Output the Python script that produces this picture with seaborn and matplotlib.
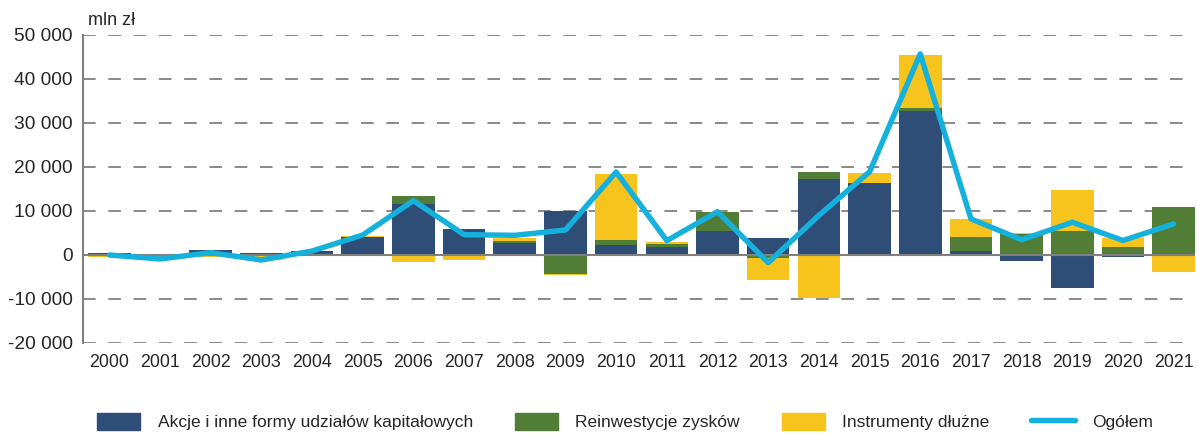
import numpy as np
import pandas as pd
import matplotlib
matplotlib.use('Agg')
import matplotlib.pyplot as plt
import seaborn as sns
from matplotlib.patches import Patch
from matplotlib.lines import Line2D

years = [str(y) for y in range(2000, 2022)]

# mln zł
akcje = [450, -200, 1060, 380, 830, 4000, 11670, 5900, 2730, 10000, 2350,
         1900, 5450, 3900, 17370, 16300, 32800, 830, -1430, -7600, -380, 0]
reinwestycje = [0, 0, 0, 0, 0, 0, 1810, 0, 530, -4400, 1050,
                600, 4400, -700, 1580, 0, 600, 3150, 4740, 5560, 1730, 10830]
dluzne = [-380, -600, -380, -1100, -230, 240, -1500, -1200, 530, -200, 15000,
          450, -230, -4900, -9770, 2400, 12000, 4100, 200, 9250, 2100, -3830]
ogolem = [0, -900, 530, -1140, 900, 4550, 12350, 4620, 4470, 5680, 18860,
          3260, 9850, -1740, 9000, 18900, 45700, 8200, 3460, 7440, 3300, 7070]

labels = ['Akcje i inne formy udziałów kapitałowych', 'Reinwestycje zysków',
          'Instrumenty dłużne', 'Ogółem']
colors = ['#2E4E78', '#527D36', '#F7C41E']
line_color = '#14B1DC'

sns.set_style('white')
plt.rcParams['font.family'] = ['Liberation Sans', 'DejaVu Sans']

fig = plt.figure(figsize=(11.97, 4.34), dpi=100)
ax = fig.add_axes([0.0693, 0.2097, 0.929, 0.7097])

# stacked bars, positives up and negatives down
pos_bottom = np.zeros(len(years))
neg_bottom = np.zeros(len(years))
for vals, col in zip([akcje, reinwestycje, dluzne], colors):
    vals = np.array(vals, dtype=float)
    bottom = np.where(vals >= 0, pos_bottom, neg_bottom)
    sns.barplot(x=years, y=vals, bottom=bottom, color=col, width=0.84,
                linewidth=0, saturation=1, ax=ax, zorder=2)
    pos_bottom += np.clip(vals, 0, None)
    neg_bottom += np.clip(vals, None, 0)

sns.lineplot(x=np.arange(len(years)), y=ogolem, color=line_color, lw=3.9,
             ax=ax, zorder=4, solid_capstyle='round', solid_joinstyle='round')

ax.set_ylim(-20000, 50000)
ax.set_xlim(-0.52, len(years) - 0.58)
ticks = np.arange(-20000, 50001, 10000)
ax.set_yticks(ticks)
ax.set_yticklabels([f'{t:,}'.replace(',', ' ') for t in ticks], fontsize=13.8)
ax.set_xticks(range(len(years)))
ax.set_xticklabels(years, fontsize=12.8)
ax.tick_params(axis='x', length=0, pad=8)
ax.tick_params(axis='y', length=5.8, width=1.1, color='#808080', direction='out', pad=1.5)

for t in ticks:
    if t == 0:
        ax.axhline(0, color='#808080', lw=1.5, zorder=3)
    else:
        ax.axhline(t, color='#808080', lw=1.3, dashes=(7, 7), zorder=1)

for s in ['top', 'right', 'bottom']:
    ax.spines[s].set_visible(False)
ax.spines['left'].set_color('#808080')
ax.spines['left'].set_linewidth(1.5)
ax.set_xlabel('')
ax.set_ylabel('')

fig.text(0.0735, 0.942, 'mln zł', fontsize=13,
         family=['Liberation Sans Narrow', 'Liberation Sans', 'DejaVu Sans'],
         ha='left', va='baseline')

handles = [Patch(color=c) for c in colors] + [Line2D([], [], color=line_color, lw=3.9)]
fig.legend(handles, labels, loc='center left', bbox_to_anchor=(0.068, 0.028),
           ncol=4, frameon=False, fontsize=12.5, handlelength=2.5, handleheight=1.1,
           handletextpad=1.0, columnspacing=2.4)

fig.savefig('out.png', dpi=100)
